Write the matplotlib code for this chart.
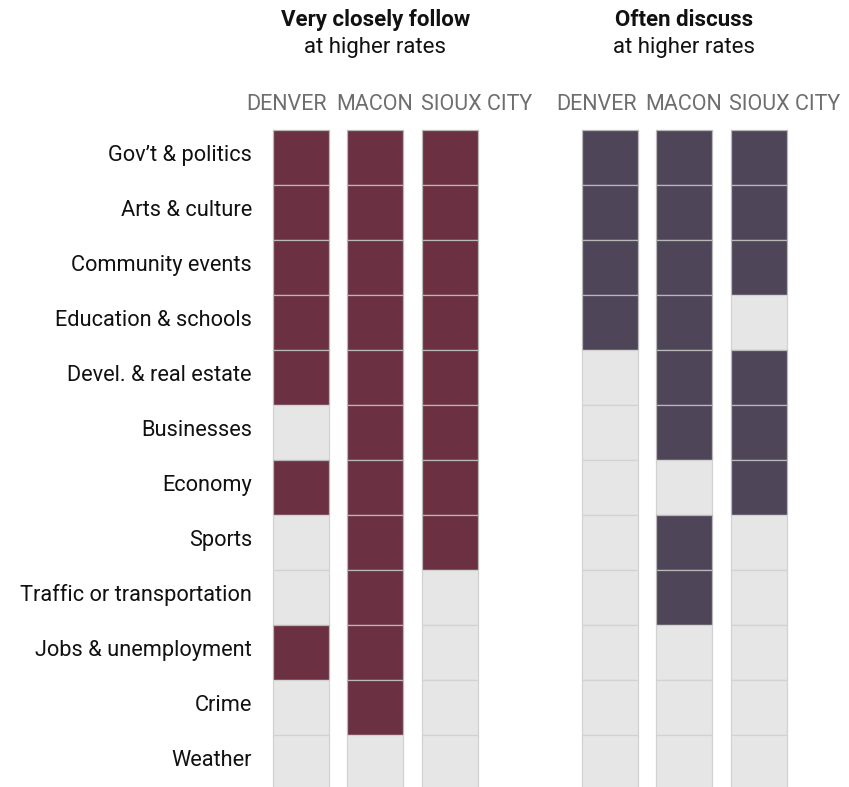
import matplotlib.pyplot as plt
from matplotlib.patches import Rectangle

topics = ["Gov’t & politics", "Arts & culture", "Community events", "Education & schools",
          "Devel. & real estate", "Businesses", "Economy", "Sports",
          "Traffic or transportation", "Jobs & unemployment", "Crime", "Weather"]
cities = ["DENVER", "MACON", "SIOUX CITY"]

# 1 = higher rate, 0 = not; columns Denver, Macon, Sioux City
follow = [[1, 1, 1], [1, 1, 1], [1, 1, 1], [1, 1, 1], [1, 1, 1], [0, 1, 1],
          [1, 1, 1], [0, 1, 1], [0, 1, 0], [1, 1, 0], [0, 1, 0], [0, 0, 0]]
discuss = [[1, 1, 1], [1, 1, 1], [1, 1, 1], [1, 1, 0], [0, 1, 1], [0, 1, 1],
           [0, 0, 1], [0, 1, 0], [0, 1, 0], [0, 0, 0], [0, 0, 0], [0, 0, 0]]

plt.rcParams['font.family'] = ['Roboto', 'DejaVu Sans']

fig = plt.figure(figsize=(8.49, 7.87), dpi=100)
ax = fig.add_axes([0, 0, 1, 1])
ax.set_xlim(0, 849)
ax.set_ylim(787, 0)
ax.axis('off')

row_top, row_h = 130, 55
col_w, col_step = 56, 74.5
groups = [
    (follow, 273, '#6b3042', "Very closely follow", [287, 375, 477]),
    (discuss, 582, '#4f4559', "Often discuss", [597, 684, 785]),
]

for data, x0, color, title, label_x in groups:
    for r, row in enumerate(data):
        for c, v in enumerate(row):
            ax.add_patch(Rectangle((x0 + c * col_step, row_top + r * row_h), col_w, row_h,
                                   facecolor=color if v else '#e6e6e6',
                                   edgecolor='#b8b8b8' if v else '#d2d2d2', lw=0.9))
    for name, lx in zip(cities, label_x):
        ax.text(lx, 104, name, ha='center', va='center', fontsize=15.5, color='#6e6e6e')
    cx = x0 + col_step + col_w / 2
    ax.text(cx, 20, title, ha='center', va='center', fontsize=16, fontweight='bold', color='#111111')
    ax.text(cx, 47, "at higher rates", ha='center', va='center', fontsize=16, color='#111111')

for r, t in enumerate(topics):
    ax.text(252, row_top + r * row_h + row_h / 2 - 2, t, ha='right', va='center',
            fontsize=15.7, color='#111111')

fig.savefig('out.png', dpi=100)
